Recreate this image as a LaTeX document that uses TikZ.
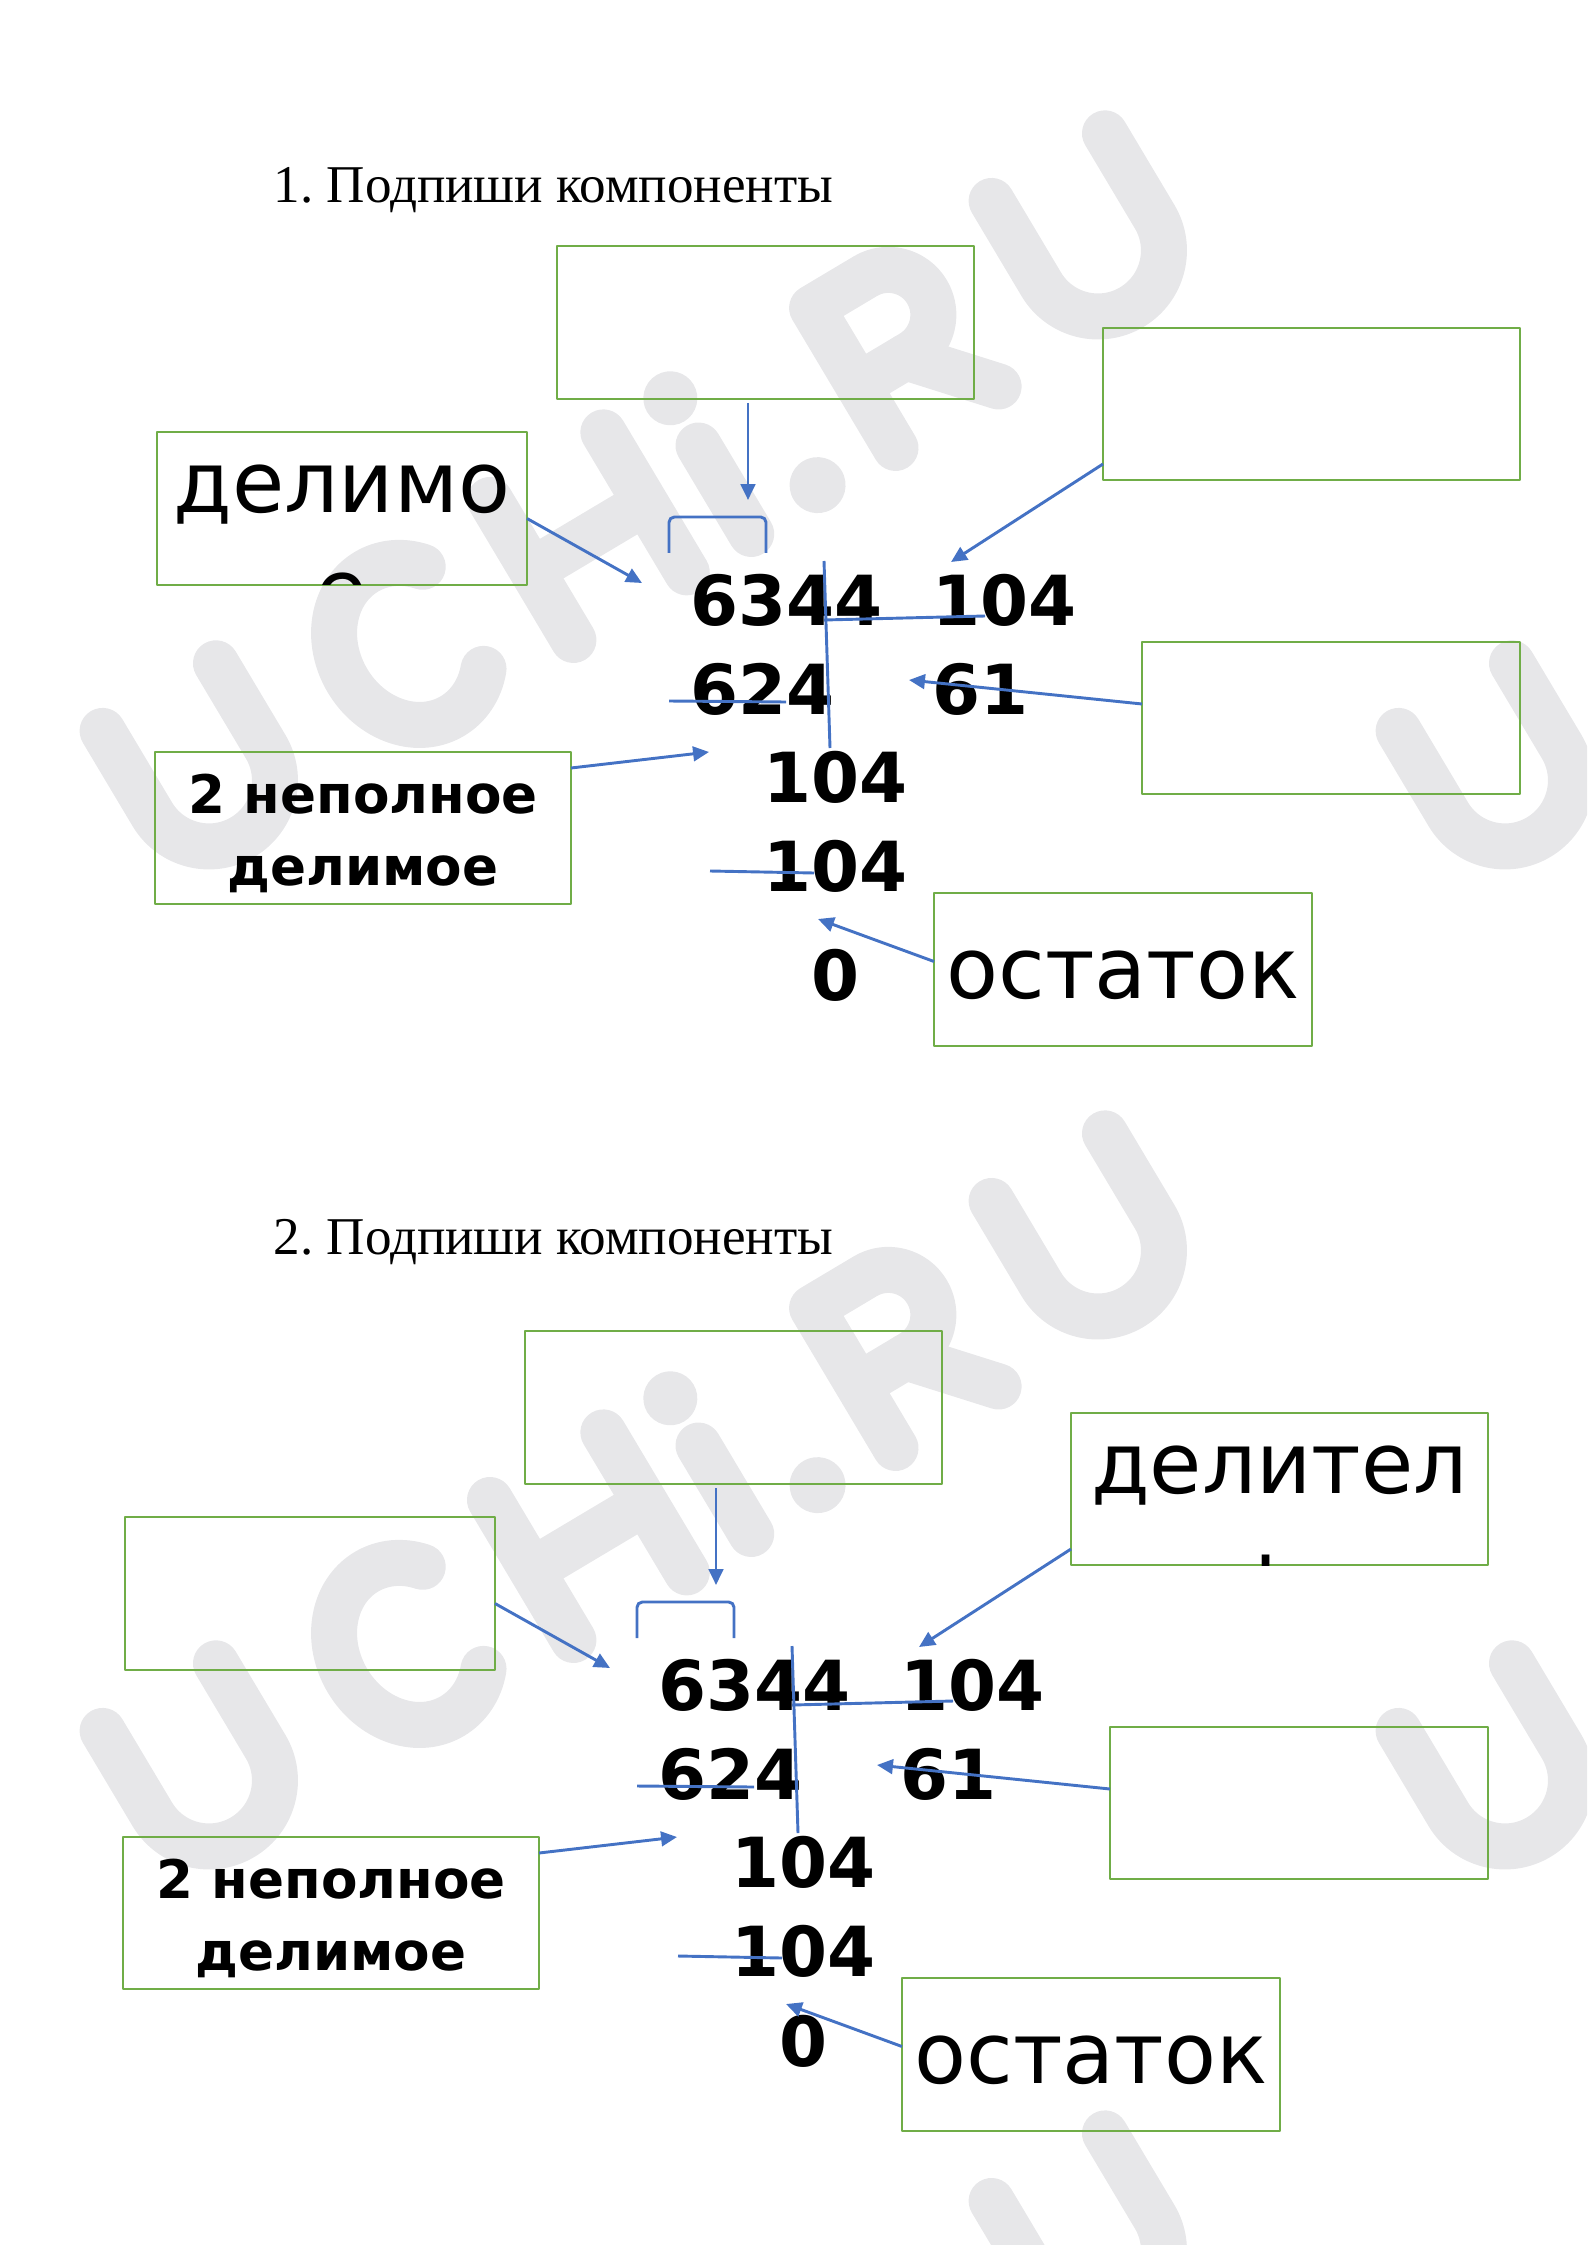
\documentclass[tikz,border=0pt]{standalone}
\usepackage{fontspec}
\setmainfont{Liberation Serif}
\newfontfamily\dejavu{DejaVu Sans}
\usetikzlibrary{arrows.meta}
\definecolor{boxgreen}{RGB}{112,173,71}
\definecolor{lineblue}{RGB}{68,114,196}
\definecolor{wmgray}{RGB}{231,231,233}
\def\pu{0.132325mm}
\tikzset{
  box/.style 2 args={draw=boxgreen, line width=1pt, inner sep=0pt, outer sep=0pt, anchor=north west, minimum width={#1*\pu}, minimum height={#2*\pu}},
  num/.style={font=\dejavu\bfseries\fontsize{26}{31}\selectfont, inner sep=0pt, anchor=base west},
  word/.style={font=\dejavu\fontsize{32}{40.3}\selectfont, inner sep=0pt, anchor=base, align=center},
  bword/.style={font=\dejavu\bfseries\fontsize{20}{27}\selectfont, inner sep=0pt, anchor=base, align=center},
  title/.style={font=\fontsize{20}{24}\selectfont, inner sep=0pt, anchor=base west},
  stroke/.style={draw=lineblue, line width=1.1pt},
  arr/.style={stroke, -{Triangle[length=6pt, width=5.5pt]}},
  wm/.style={draw=wmgray, line width={46*\pu}, line cap=round, line join=round},
}
% one tile of the watermark, baseline along x
\newcommand\wmtile{%
  \draw[wm] (-66,185) -- (-66,88) arc[start angle=180, end angle=360, radius=66] -- (66,185);
  \draw[wm] (293,162) arc[start angle=45, end angle=315, x radius=72, y radius=84];
  \draw[wm] (385,22) -- (385,185) (517,22) -- (517,185) (385,103) -- (517,103);
  \draw[wm] (592,22) -- (592,125);
  \fill[wmgray] (592,180) circle[radius=27];
  \fill[wmgray] (674,30) circle[radius=28];
  \draw[wm] (760,22) -- (760,185) -- (822,185) arc[start angle=90, end angle=-90, radius=45] -- (760,95);
  \draw[wm] (815,95) -- (880,22);
  \draw[wm] (969,185) -- (969,88) arc[start angle=180, end angle=360, radius=66] -- (1101,185);
}
\begin{document}
\begin{tikzpicture}[x=\pu, y=-\pu, line join=round]
\useasboundingbox (0,0) rectangle (1587,2245);
% watermark
\begin{scope}
  \clip (0,0) rectangle (1587,2245);
  \foreach \wx/\wy in {0/0, 0/1000, 0/2000, 1296/0, 1296/1000} {
    \begin{scope}[shift={(254+\wx,856+\wy)}, yscale=-1, rotate=-30.8]
      \wmtile
    \end{scope}
  }
\end{scope}
% the two exercises
\foreach \s/\dx/\dy/\ty/\lft/\rgt/\zy in {1/0/0/203/{делимо\\е}/{}/1000, 2/-32/1085/1254/{}/{делител\\ь}/981} {
  \node[title] (title\s) at (273,\ty) {\s.\ Подпиши компоненты};
  \begin{scope}[shift={(\dx,\dy)}]
    % boxes
    \node[box={417}{153}] (A\s) at (557,246) {};
    \node[box={417}{152}] (B\s) at (1103,328) {};
    \node[box={370}{153}] (L\s) at (157,432) {};
    \node[box={378}{152}] (C\s) at (1142,642) {};
    \node[box={416}{152}] (N\s) at (155,752) {};
    \node[box={378}{153}] (R\s) at (934,893) {};
    \begin{scope}
      \clip (L\s.north west) rectangle (L\s.south east);
      \node[word] (lt\s) at (342,620) {\lft};
    \end{scope}
    \begin{scope}
      \clip (B\s.north west) rectangle (B\s.south east);
      \node[word] (rt\s) at (1311.5,516) {\rgt};
    \end{scope}
    \node[bword] (nt\s) at (363,885) {2 неполное\\делимое};
    \node[word] (ot\s) at (1123,998) {остаток};
    % the division
    \node[num] (dd\s) at (690,625) {6344};
    \node[num] (dr\s) at (932,625) {104};
    \node[num] (sa\s) at (690,714) {624};
    \node[num] (qt\s) at (932,714) {61};
    \node[num] (pb\s) at (763,802) {104};
    \node[num] (sb\s) at (763,891) {104};
    \node[num] (rm\s) at (811,\zy) {0};
    \draw[stroke] (824,561) -- (830,748);
    \draw[stroke] (824,620) -- (985,616);
    \draw[stroke] (669,701) -- (786,702);
    \draw[stroke] (710,871) -- (814,873);
    \draw[stroke, rounded corners=2pt] (669,553) -- (669,517) -- (766,517) -- (766,553);
    % arrows
    \coordinate (tA\s) at (748,500);
    \coordinate (tL\s) at (642,583);
    \coordinate (tB\s) at (951,562);
    \coordinate (tC\s) at (909,680);
    \coordinate (tN\s) at (709,752);
    \coordinate (tR\s) at (818,919);
    \draw[arr, shorten <=1.5pt] (tA\s |- A\s.south) -- (tA\s);
    \draw[arr] ([shift={(0,10)}]L\s.east) -- (tL\s);
    \draw[arr] ([shift={(0,-16)}]B\s.south west) -- (tB\s);
    \draw[arr] ([shift={(0,-14)}]C\s.west) -- (tC\s);
    \draw[arr] ([shift={(0,16)}]N\s.north east) -- (tN\s);
    \draw[arr] ([shift={(0,-8)}]R\s.west) -- (tR\s);
  \end{scope}
}
\end{tikzpicture}
\end{document}
